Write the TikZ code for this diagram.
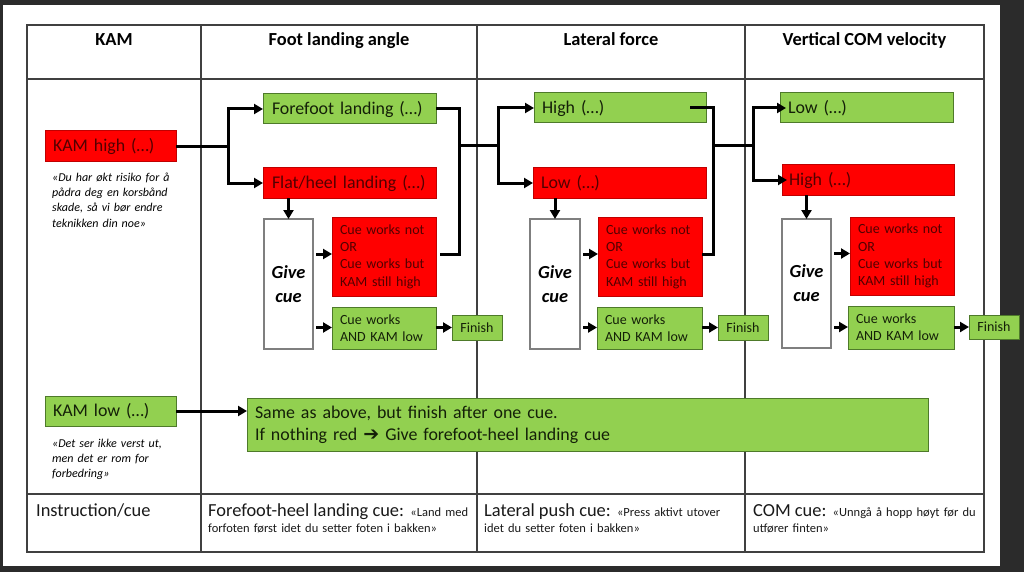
\documentclass[tikz,border=0pt]{standalone}
\usepackage{fontspec}
\setmainfont{Carlito}
\newfontfamily\symfont{DejaVu Sans}
\usetikzlibrary{arrows.meta}
\definecolor{pagebg}{HTML}{2B2B2B}
\definecolor{boxred}{HTML}{FF0000}
\definecolor{boxredline}{HTML}{C00000}
\definecolor{boxgreen}{HTML}{92D050}
\definecolor{boxgreenline}{HTML}{4E7A2A}
\definecolor{greentext}{HTML}{142008}
\definecolor{tblline}{HTML}{404040}
\definecolor{givegrey}{HTML}{7F7F7F}
\newcommand\fsbig{\fontsize{17.9}{22}\selectfont}
\newcommand\fshead{\fontsize{18.4}{22}\selectfont}
\newcommand\fsmid{\fontsize{14}{17.3}\selectfont}
\newcommand\fsq{\fontsize{12}{15}\selectfont}
\newcommand\fsb{\fontsize{12.5}{16}\selectfont}
\begin{document}
\begin{tikzpicture}[x=1pt,y=-1pt,
  box/.style={anchor=north west, inner ysep=0pt, outer sep=0pt, line width=1pt, align=left},
  redbox/.style={box, fill=boxred, draw=boxredline, text=black!68!red},
  greenbox/.style={box, fill=boxgreen, draw=boxgreenline, text=greentext},
  givebox/.style={box, fill=white, draw=givegrey, line width=1.2pt, align=center, inner xsep=0pt,
    font=\fontsize{18.4}{24}\selectfont\bfseries\itshape},
  finbox/.style={greenbox, align=center, inner xsep=0pt, text width=50pt, font=\fsmid},
  conn/.style={line width=3pt, black, line join=miter},
  arr/.style={conn, -{Triangle[length=9pt,width=10pt]}},
  tbl/.style={line width=1.3pt, draw=tblline},
  hdr/.style={anchor=base, font=\fshead\bfseries, inner sep=0pt},
  quote/.style={anchor=base west, inner sep=0pt, text width=150pt, align=left, font=\fsq\itshape},
  bottxt/.style={anchor=base west, inner sep=0pt, text width=290pt, align=left, font=\fsb, text=black!90},
]
\useasboundingbox (0,0) rectangle (1024,572);
% page
\fill[pagebg] (0,0) rectangle (1024,572);
\fill[white] (3,5) rectangle (1000,566);
% table
\draw[tbl] (27,25) rectangle (984,552);
\draw[tbl] (27,79) -- (984,79);
\draw[tbl] (27,494) -- (984,494);
\draw[tbl] (201,25) -- (201,552);
\draw[tbl] (477,25) -- (477,552);
\draw[tbl] (745,25) -- (745,552);
% headers
\node[hdr] (h1) at (114,46) {KAM};
\node[hdr] (h2) at (339,46) {Foot landing angle};
\node[hdr] (h3) at (611,46) {Lateral force};
\node[hdr] (h4) at (864.5,46) {Vertical COM velocity};
% KAM column
\node[redbox, inner xsep=8pt, text width=115pt, minimum height=31pt, font=\fsbig] (kamhigh) at (45,131) {\mbox{KAM high (…)}};
\node[quote] (q1) at (52,182) {«Du har økt risiko for å\\pådra deg en korsbånd\\skade, så vi bør endre\\teknikken din noe»};
\node[greenbox, inner xsep=8pt, text width=115pt, minimum height=30pt, font=\fsbig] (kamlow) at (45,396) {\mbox{KAM low (…)}};
\node[quote] (q2) at (52,447) {«Det ser ikke verst ut,\\men det er rom for\\forbedring»};
% Foot landing angle column
\node[greenbox, inner xsep=9pt, text width=155pt, minimum height=30pt, font=\fsbig] (fore) at (263,94) {\mbox{Forefoot landing (…)}};
\node[redbox, inner xsep=9pt, text width=155pt, minimum height=30pt, font=\fsbig] (flat) at (263,168) {\mbox{Flat/heel landing (…)}};
\node[givebox, text width=49pt, minimum height=130pt] (give1) at (264,219) {Give\\cue};
\node[redbox, inner xsep=8pt, text width=88pt, minimum height=79pt, font=\fsmid] (cwn1) at (332,217) {Cue works not\\OR\\Cue works but\\KAM still high};
\node[greenbox, inner xsep=8pt, text width=88pt, minimum height=42pt, font=\fsmid] (cw1) at (332,307) {Cue works\\AND KAM low};
\node[finbox, minimum height=25pt] (fin1) at (452,315) {Finish};
% Lateral force column
\node[greenbox, inner xsep=8pt, text width=156pt, minimum height=30pt, font=\fsbig] (high2) at (534,93) {\mbox{High (…)}};
\node[redbox, inner xsep=8pt, text width=157pt, minimum height=30pt, font=\fsbig] (low2) at (533,168) {\mbox{Low (…)}};
\node[givebox, text width=50pt, minimum height=130pt] (give2) at (530,219) {Give\\cue};
\node[redbox, inner xsep=8pt, text width=88pt, minimum height=79pt, font=\fsmid] (cwn2) at (598,217) {Cue works not\\OR\\Cue works but\\KAM still high};
\node[greenbox, inner xsep=8pt, text width=89pt, minimum height=42pt, font=\fsmid] (cw2) at (597,307) {Cue works\\AND KAM low};
\node[finbox, minimum height=25pt] (fin2) at (718,315) {Finish};
% Vertical COM velocity column
\node[greenbox, inner xsep=8pt, text width=157pt, minimum height=30pt, font=\fsbig] (low3) at (780,93) {\mbox{Low (…)}};
\node[redbox, inner xsep=7pt, text width=158pt, minimum height=30pt, font=\fsbig] (high3) at (782,165) {\mbox{High (…)}};
\node[givebox, text width=49pt, minimum height=129pt] (give3) at (782,219) {Give\\cue};
\node[redbox, inner xsep=8pt, text width=88pt, minimum height=78pt, font=\fsmid] (cwn3) at (850,217) {Cue works not\\OR\\Cue works but\\KAM still high};
\node[greenbox, inner xsep=8pt, text width=90pt, minimum height=43pt, font=\fsmid] (cw3) at (848,306) {Cue works\\AND KAM low};
\node[finbox, minimum height=24pt] (fin3) at (969,315) {Finish};
% big green box
\node[greenbox, inner xsep=8pt, text width=665pt, minimum height=53pt, font=\fsbig] (big) at (247,398) {Same as above, but finish after one cue.\\If nothing red {\symfont\fontsize{19}{22}\selectfont ➔} Give forefoot-heel landing cue};
% bottom row
\node[bottxt] (b1) at (36,516) {\fshead Instruction/cue};
\node[bottxt] (b2) at (208,516) {{\fshead Forefoot-heel landing cue:} «Land med\\forfoten først idet du setter foten i bakken»};
\node[bottxt] (b3) at (484,516) {{\fshead Lateral push cue:} «Press aktivt utover\\idet du setter foten i bakken»};
\node[bottxt] (b4) at (753,516) {{\fshead COM cue:} «Unngå å hopp høyt før du\\utfører finten»};
% connectors
\coordinate (t1) at (459,146);
\coordinate (j2) at (498,146);
\coordinate (t2) at (713,146);
\coordinate (j4) at (753,146);
\draw[conn] (kamhigh.east) -- ++(52,0) coordinate (j1);
\draw[arr] (j1) |- (fore.west);
\draw[arr] (j1) |- (flat.west);
\coordinate (c1) at ([xshift=4pt,yshift=2.5pt]cwn1.east);
\draw[conn] (fore.east) -| (t1) |- (c1);
\draw[conn] (t1) -- (j2);
\draw[arr] (j2) |- (high2.west);
\draw[arr] (j2) |- (low2.west);
\coordinate (c2) at ([yshift=2.5pt]cwn2.east);
\draw[conn] ([xshift=-16pt]high2.east) -| (t2) |- (c2);
\draw[conn] (t2) -- (j4);
\draw[arr] (j4) |- ([xshift=6pt]low3.west);
\draw[arr] (j4) |- ([xshift=5pt]high3.west);
% down arrows
\draw[arr] (flat.south -| give1.north) -- (give1.north);
\draw[arr] (low2.south -| give2.north) -- (give2.north);
\draw[arr] (high3.south -| give3.north) -- (give3.north);
% give -> outcomes
\coordinate (w1) at ([yshift=2.5pt]cwn1.west);
\coordinate (w2) at ([yshift=2.5pt]cwn2.west);
\coordinate (w3) at ([yshift=2.5pt]cwn3.west);
\draw[arr] ([xshift=3pt]give1.east |- w1) -- (w1);
\draw[arr] ([xshift=3pt]give2.east |- w2) -- (w2);
\draw[arr] ([xshift=3pt]give3.east |- w3) -- (w3);
\draw[arr] ([xshift=3pt]give1.east |- fin1.west) -- (cw1.west |- fin1.west);
\draw[arr] ([xshift=3pt]give2.east |- fin2.west) -- (cw2.west |- fin2.west);
\draw[arr] ([xshift=3pt]give3.east |- fin3.west) -- (cw3.west |- fin3.west);
\draw[arr] (cw1.east |- fin1.west) -- (fin1.west);
\draw[arr] (cw2.east |- fin2.west) -- (fin2.west);
\draw[arr] (cw3.east |- fin3.west) -- (fin3.west);
% KAM low
\draw[arr] (kamlow.east) -- (kamlow.east -| big.west);
\end{tikzpicture}
\end{document}
